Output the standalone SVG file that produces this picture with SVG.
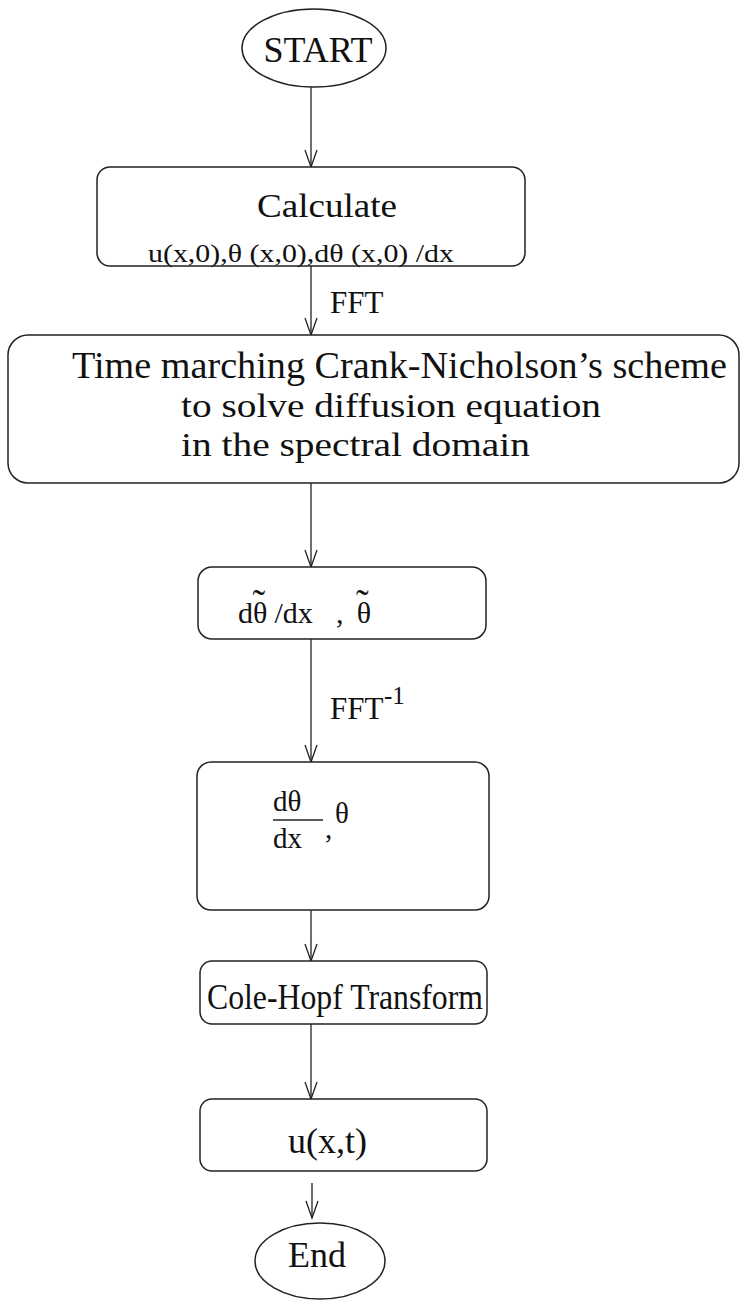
<svg xmlns="http://www.w3.org/2000/svg" width="742" height="1300" viewBox="0 0 742 1300">
<style>
.s{fill:#fff;stroke:#222;stroke-width:1.5}
.t{font-family:"Liberation Serif","Times New Roman",serif;fill:#111}
.c{stroke:#222;stroke-width:1.3;fill:none}
</style>
<g id="connectors">
<line class="c" x1="311" y1="87" x2="311" y2="167"/>
<line class="c" x1="311" y1="266" x2="311" y2="335"/>
<line class="c" x1="311" y1="482" x2="311" y2="567"/>
<line class="c" x1="311" y1="639" x2="311" y2="762"/>
<line class="c" x1="311" y1="910" x2="311" y2="961"/>
<line class="c" x1="311" y1="1024" x2="311" y2="1099"/>
<line class="c" x1="312" y1="1183" x2="312" y2="1218"/>
<polyline class="c" points="305,150 311,167 317,150"/>
<polyline class="c" points="305,318 311,335 317,318"/>
<polyline class="c" points="305,550 311,567 317,550"/>
<polyline class="c" points="305,745 311,762 317,745"/>
<polyline class="c" points="305,944 311,961 317,944"/>
<polyline class="c" points="305,1082 311,1099 317,1082"/>
<polyline class="c" points="306,1201 312,1218 318,1201"/>
<text class="t" x="330" y="313" font-size="31">FFT</text>
<text class="t" x="330" y="719" font-size="31">FFT</text>
<text class="t" x="384" y="704" font-size="25">-1</text>
</g>
<g id="start">
<ellipse class="s" cx="314" cy="48" rx="72" ry="39"/>
<text class="t" x="318" y="62" font-size="36" text-anchor="middle">START</text>
</g>
<g id="calculate">
<rect class="s" x="97" y="167" width="428" height="99" rx="13"/>
<text class="t" x="257" y="217" font-size="33" textLength="140" lengthAdjust="spacingAndGlyphs">Calculate</text>
<text class="t" x="148" y="262" font-size="26" textLength="306" lengthAdjust="spacingAndGlyphs">u(x,0),θ (x,0),dθ (x,0) /dx</text>
</g>
<g id="crank">
<rect class="s" x="8" y="335" width="731" height="148" rx="20"/>
<text class="t" x="72" y="378" font-size="37" textLength="655" lengthAdjust="spacingAndGlyphs">Time marching Crank-Nicholson’s scheme</text>
<text class="t" x="181" y="417" font-size="34" textLength="420" lengthAdjust="spacingAndGlyphs">to solve diffusion equation</text>
<text class="t" x="181" y="456" font-size="34" textLength="349" lengthAdjust="spacingAndGlyphs">in the spectral domain</text>
</g>
<g id="spectral">
<rect class="s" x="198" y="567" width="288" height="72" rx="14"/>
<text class="t" x="238" y="623" font-size="30">dθ<tspan font-size="38" dx="-15" dy="-7">˜</tspan><tspan dx="2" dy="7"> /dx</tspan></text>
<text class="t" x="336" y="623" font-size="30">,</text>
<text class="t" x="356" y="623" font-size="30">θ<tspan font-size="38" dx="-15" dy="-7">˜</tspan></text>
</g>
<g id="physical">
<rect class="s" x="197" y="762" width="292" height="148" rx="14"/>
<text class="t" x="273" y="811" font-size="29">dθ</text>
<line x1="273" y1="820" x2="323" y2="820" stroke="#222" stroke-width="1.3"/>
<text class="t" x="273" y="848" font-size="29">dx</text>
<text class="t" x="325" y="838" font-size="29">,</text>
<text class="t" x="335" y="823" font-size="29">θ</text>
</g>
<g id="colehopf">
<rect class="s" x="200" y="961" width="287" height="63" rx="12"/>
<text class="t" x="207" y="1009" font-size="36" textLength="276" lengthAdjust="spacingAndGlyphs">Cole-Hopf Transform</text>
</g>
<g id="uxt">
<rect class="s" x="200" y="1099" width="287" height="72" rx="12"/>
<text class="t" x="288" y="1153" font-size="36">u(x,t)</text>
</g>
<g id="end">
<ellipse class="s" cx="320" cy="1261" rx="65" ry="38"/>
<text class="t" x="288" y="1267" font-size="36">End</text>
</g>
</svg>
